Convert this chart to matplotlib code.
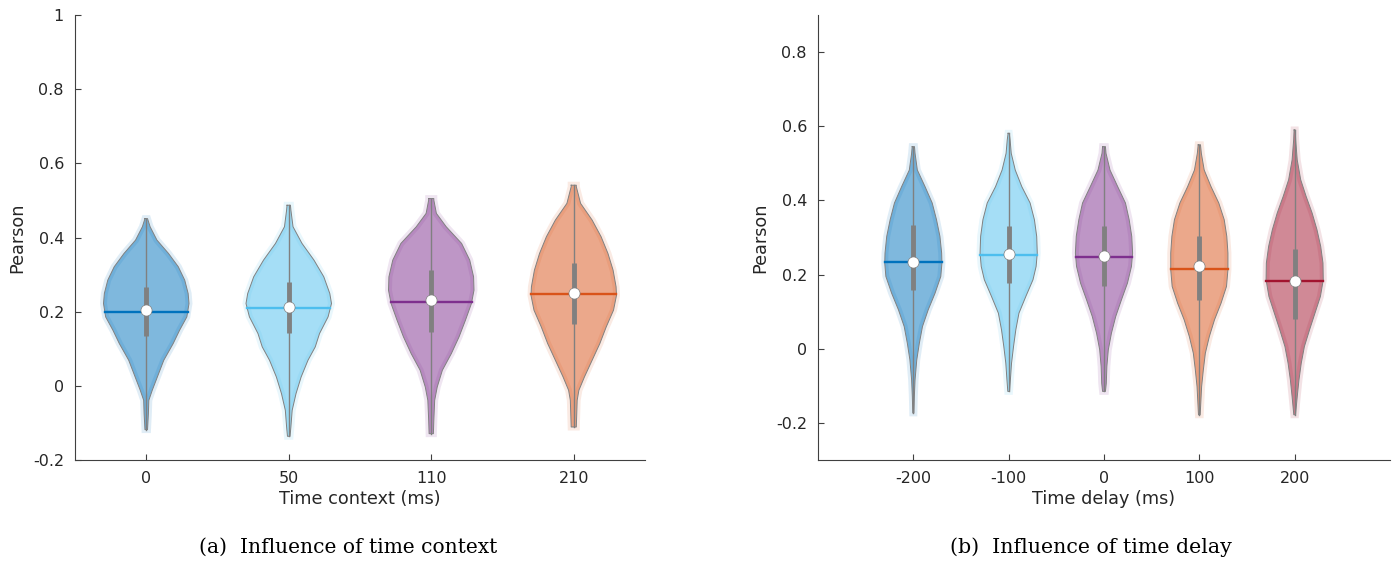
"""Violin plots of Pearson correlation vs. time context / time delay."""

import matplotlib
matplotlib.use("Agg")
import matplotlib.pyplot as plt
import numpy as np

matplotlib.rcParams["font.family"] = "DejaVu Sans"
matplotlib.rcParams["text.color"] = "#262626"
matplotlib.rcParams["axes.labelcolor"] = "#262626"

# MATLAB default colour order
COLORS = ["#0072BD", "#4DBEEE", "#7E2F8E", "#D95319", "#A2142F"]

# -------------------------------------------------------------------------
#  (a) time context -- outline: levels (Pearson) and
#  relative half-widths (1 = widest point), plus summary stats
# -------------------------------------------------------------------------
ctx_labels = ["0", "50", "110", "210"]
ctx_levels = [
    [0.451, 0.429, 0.393, 0.357, 0.321, 0.285, 0.249, 0.222, 0.186, 0.150,
     0.114, 0.069, 0.024, -0.012, -0.039, -0.075, -0.118],
    [0.487, 0.474, 0.429, 0.384, 0.339, 0.294, 0.249, 0.222, 0.186, 0.141,
     0.105, 0.069, 0.024, -0.021, -0.066, -0.111, -0.136],
    [0.505, 0.501, 0.465, 0.429, 0.384, 0.339, 0.294, 0.258, 0.222, 0.177,
     0.132, 0.087, 0.042, -0.003, -0.039, -0.093, -0.129],
    [0.541, 0.537, 0.492, 0.447, 0.402, 0.357, 0.312, 0.267, 0.244, 0.204,
     0.159, 0.114, 0.069, 0.024, -0.012, -0.039, -0.075, -0.111],
]
ctx_widths = [
    [0.03, 0.09, 0.25, 0.52, 0.75, 0.90, 0.98, 1.00, 0.95, 0.78,
     0.63, 0.41, 0.26, 0.14, 0.06, 0.05, 0.03],
    [0.04, 0.05, 0.10, 0.31, 0.59, 0.82, 0.96, 1.00, 0.92, 0.72,
     0.62, 0.45, 0.29, 0.17, 0.08, 0.05, 0.03],
    [0.06, 0.06, 0.12, 0.35, 0.71, 0.90, 0.99, 1.00, 0.94, 0.80,
     0.65, 0.47, 0.26, 0.14, 0.08, 0.06, 0.05],
    [0.06, 0.06, 0.16, 0.43, 0.64, 0.80, 0.92, 0.99, 1.00, 0.93,
     0.76, 0.61, 0.43, 0.25, 0.12, 0.08, 0.07, 0.06],
]
ctx_mean = [0.200, 0.210, 0.227, 0.247]
ctx_median = [0.204, 0.213, 0.231, 0.251]
ctx_q1 = [0.134, 0.143, 0.146, 0.168]
ctx_q3 = [0.267, 0.280, 0.312, 0.330]

# -------------------------------------------------------------------------
#  (b) time delay
# -------------------------------------------------------------------------
dly_labels = ["-200", "-100", "0", "100", "200"]
dly_levels = [
    [0.545, 0.527, 0.482, 0.437, 0.393, 0.348, 0.303, 0.258, 0.231, 0.195,
     0.150, 0.105, 0.060, 0.015, -0.030, -0.084, -0.129, -0.173],
    [0.581, 0.563, 0.527, 0.482, 0.437, 0.393, 0.348, 0.303, 0.258, 0.222,
     0.186, 0.141, 0.096, 0.051, 0.006, -0.039, -0.084, -0.115],
    [0.545, 0.527, 0.482, 0.437, 0.393, 0.348, 0.303, 0.258, 0.222, 0.177,
     0.132, 0.087, 0.042, -0.003, -0.048, -0.093, -0.115],
    [0.550, 0.527, 0.482, 0.437, 0.393, 0.348, 0.303, 0.258, 0.213, 0.168,
     0.123, 0.078, 0.033, -0.012, -0.057, -0.102, -0.147, -0.178],
    [0.590, 0.563, 0.509, 0.456, 0.411, 0.366, 0.321, 0.276, 0.231, 0.186,
     0.141, 0.096, 0.051, 0.006, -0.039, -0.084, -0.129, -0.178],
]
dly_widths = [
    [0.04, 0.06, 0.14, 0.41, 0.66, 0.81, 0.93, 0.99, 1.00, 0.96,
     0.76, 0.52, 0.32, 0.21, 0.12, 0.06, 0.035, 0.02],
    [0.02, 0.05, 0.09, 0.23, 0.46, 0.75, 0.90, 0.98, 1.00, 0.96,
     0.85, 0.60, 0.36, 0.25, 0.17, 0.10, 0.06, 0.03],
    [0.05, 0.07, 0.21, 0.48, 0.75, 0.88, 0.97, 1.00, 0.96, 0.82,
     0.61, 0.41, 0.26, 0.15, 0.10, 0.08, 0.05],
    [0.04, 0.07, 0.17, 0.41, 0.68, 0.87, 0.96, 1.00, 1.00, 0.95,
     0.76, 0.53, 0.35, 0.21, 0.14, 0.08, 0.05, 0.03],
    [0.02, 0.035, 0.09, 0.21, 0.40, 0.61, 0.78, 0.91, 0.99, 1.00,
     0.90, 0.71, 0.52, 0.34, 0.23, 0.15, 0.09, 0.03],
]
dly_mean = [0.234, 0.252, 0.248, 0.216, 0.183]
dly_median = [0.235, 0.256, 0.251, 0.222, 0.183]
dly_q1 = [0.159, 0.177, 0.168, 0.132, 0.080]
dly_q3 = [0.334, 0.330, 0.330, 0.303, 0.270]

HALF_WIDTH = 0.3
GREY = "#808080"


def draw_violin(ax, x, levels, widths, mean, median, q1, q3, color):
    lv = np.asarray(levels)
    w = np.asarray(widths) * HALF_WIDTH
    xs = np.concatenate([x - w, (x + w)[::-1]])
    ys = np.concatenate([lv, lv[::-1]])

    # body: soft halo (scatter spill) + translucent fill
    ax.fill(xs, ys, facecolor="none", edgecolor=color, alpha=0.12, lw=5, zorder=1)
    ax.fill(xs, ys, facecolor=color, alpha=0.5, edgecolor="none", zorder=1.5)
    ax.plot(np.append(xs, xs[0]), np.append(ys, ys[0]), color=GREY, lw=0.7, zorder=2)

    # whisker, IQR box, mean line, median dot
    ax.plot([x, x], [lv.min(), lv.max()], color=GREY, lw=1.0, zorder=3)
    mw = np.interp(mean, lv[::-1], w[::-1])
    ax.plot([x - mw, x + mw], [mean, mean], color=color, lw=1.7, zorder=3.5)
    ax.plot([x, x], [q1, q3], color=GREY, lw=3.5, solid_capstyle="butt", zorder=4)
    ax.plot(x, median, "o", ms=8, mfc="white", mec=GREY, mew=0.5, zorder=5)


def style_axes(ax, labels, xlabel, xlim, ylim, yticks):
    ax.set_xlim(*xlim)
    ax.set_ylim(*ylim)
    ax.set_xticks(np.arange(1, len(labels) + 1))
    ax.set_xticklabels(labels)
    ax.set_yticks(yticks)
    ax.set_yticklabels([f"{t:g}" for t in yticks])
    for side in ("top", "right"):
        ax.spines[side].set_visible(False)
    for side in ("left", "bottom"):
        ax.spines[side].set_color("#404040")
        ax.spines[side].set_linewidth(0.8)
    ax.tick_params(direction="in", length=4, width=0.8, colors="#404040",
                   labelcolor="#262626", labelsize=11.5, pad=8)
    ax.set_xlabel(xlabel, fontsize=12.7, labelpad=3)
    ax.set_ylabel("Pearson", fontsize=12.7, labelpad=5)


fig = plt.figure(figsize=(13.94, 5.65), dpi=100)
ax1 = fig.add_axes([75 / 1394, 1 - 460 / 565, 570 / 1394, 445 / 565])
ax2 = fig.add_axes([818 / 1394, 1 - 460 / 565, 572 / 1394, 445 / 565])

for i in range(len(ctx_labels)):
    draw_violin(ax1, i + 1, ctx_levels[i], ctx_widths[i], ctx_mean[i],
                ctx_median[i], ctx_q1[i], ctx_q3[i], COLORS[i])
for i in range(len(dly_labels)):
    draw_violin(ax2, i + 1, dly_levels[i], dly_widths[i], dly_mean[i],
                dly_median[i], dly_q1[i], dly_q3[i], COLORS[i])

style_axes(ax1, ctx_labels, "Time context (ms)", (0.5, 4.5), (-0.2, 1.0),
           [-0.2, 0, 0.2, 0.4, 0.6, 0.8, 1])
style_axes(ax2, dly_labels, "Time delay (ms)", (0.0, 6.0), (-0.3, 0.9),
           [-0.2, 0, 0.2, 0.4, 0.6, 0.8])

# sub-figure captions, sized to the width they take in the original
renderer = fig.canvas.get_renderer()
for cx, text, target in [(348, "(a)  Influence of time context", 300),
                         (1091, "(b)  Influence of time delay", 282)]:
    t = fig.text(cx / 1394, 1 - 547 / 565, text, family="DejaVu Serif",
                 fontsize=14, ha="center", va="center", color="black")
    width = t.get_window_extent(renderer).width
    t.set_fontsize(14 * target / width)

fig.savefig("out.png", dpi=100)
